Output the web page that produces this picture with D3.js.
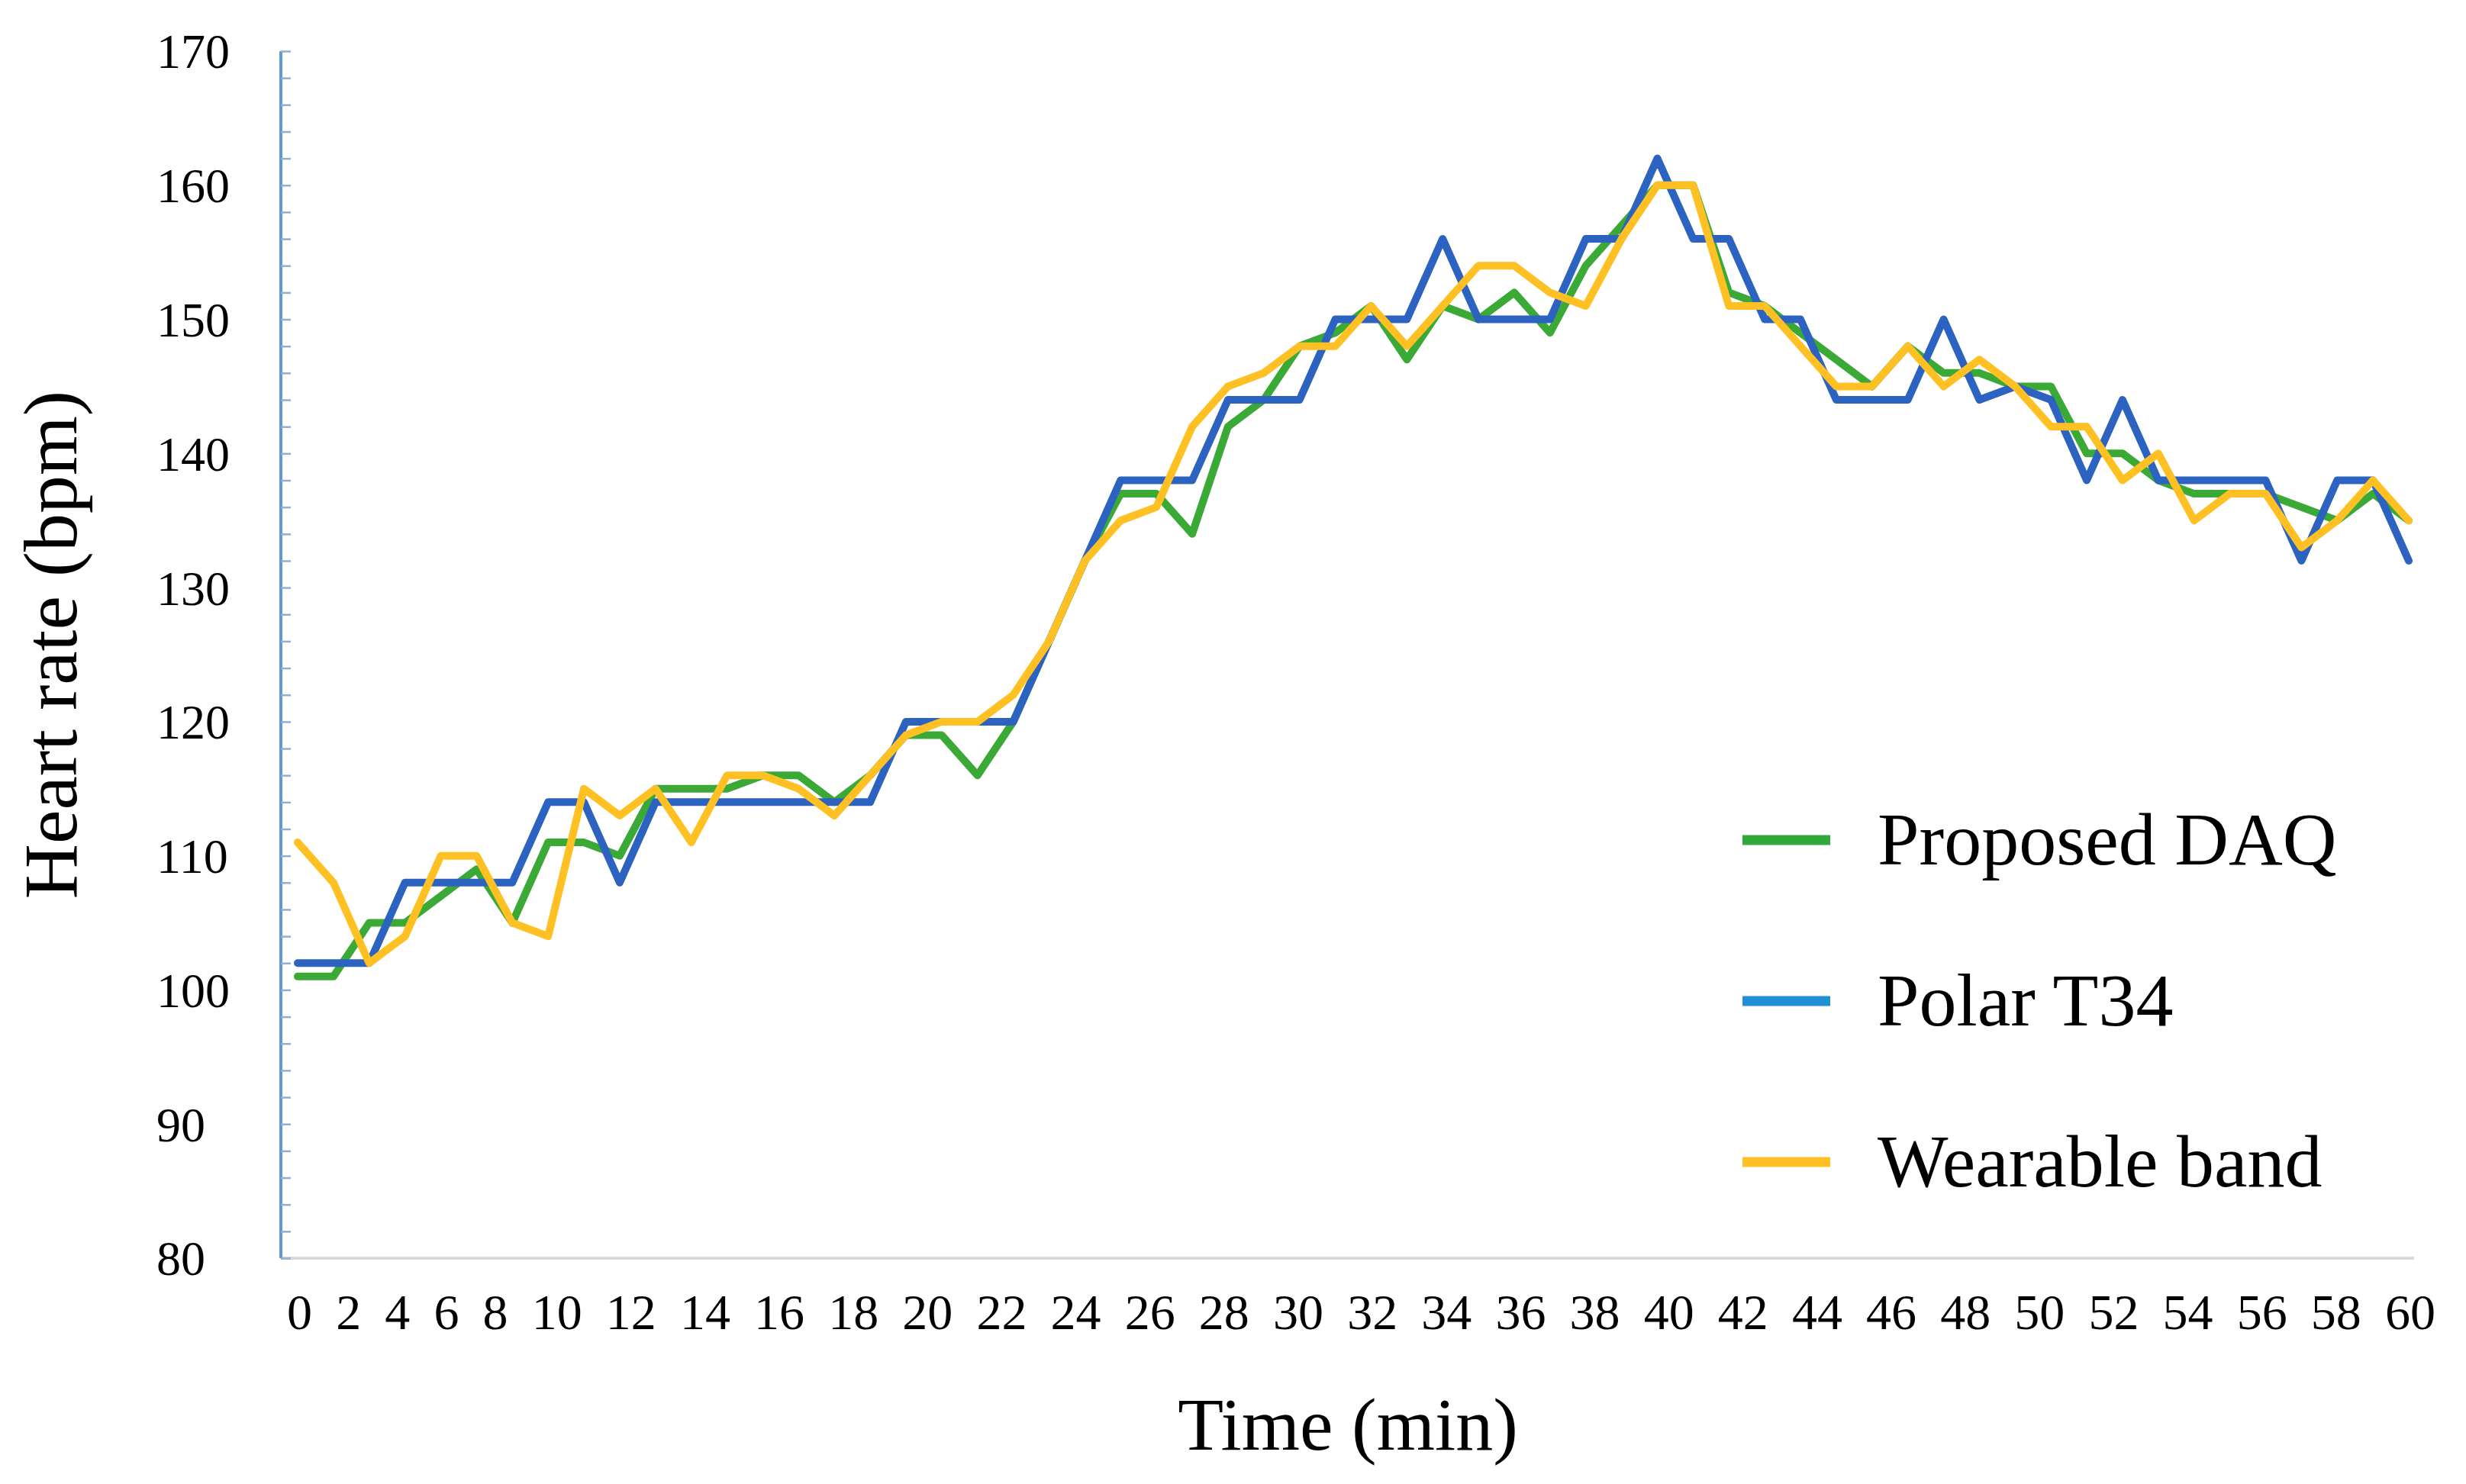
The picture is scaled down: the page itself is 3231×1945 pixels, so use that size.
<!DOCTYPE html>
<html>
<head>
<meta charset="utf-8">
<script src="https://cdn.jsdelivr.net/npm/d3@7"></script>
<style>
  body { margin: 0; background: #fff; }
  svg { display: block; font-family: "Liberation Serif", "DejaVu Serif", serif; }
</style>
</head>
<body>
<div id="chart"></div>
<script>
// heart rate per minute sample (60 samples)
const proposedDAQ = [101, 101, 105, 105, 107, 109, 105, 111, 111, 110,
  115, 115, 115, 116, 116, 114, 116, 119, 119, 116,
  120, 126, 132, 137, 137, 134, 142, 144, 148, 149,
  151, 147, 151, 150, 152, 149, 154, 157, 160, 160,
  152, 151, 149, 147, 145, 148, 146, 146, 145, 145,
  140, 140, 138, 137, 137, 137, 136, 135, 137, 135];
const polarT34 = [102, 102, 102, 108, 108, 108, 108, 114, 114, 108,
  114, 114, 114, 114, 114, 114, 114, 120, 120, 120,
  120, 126, 132, 138, 138, 138, 144, 144, 144, 150,
  150, 150, 156, 150, 150, 150, 156, 156, 162, 156,
  156, 150, 150, 144, 144, 144, 150, 144, 145, 144,
  138, 144, 138, 138, 138, 138, 132, 138, 138, 132];
const wearableBand = [111, 108, 102, 104, 110, 110, 105, 104, 115, 113,
  115, 111, 116, 116, 115, 113, 116, 119, 120, 120,
  122, 126, 132, 135, 136, 142, 145, 146, 148, 148,
  151, 148, 151, 154, 154, 152, 151, 156, 160, 160,
  151, 151, 148, 145, 145, 148, 145, 147, 145, 142,
  142, 138, 140, 135, 137, 137, 133, 135, 138, 135];

const xTickLabels = d3.range(0, 61, 2).map(String);
const yTicks = d3.range(80, 171, 10);
const seriesNames = ["Proposed DAQ", "Polar T34", "Wearable band"];
const lineColors = ["#3aa935", "#2d63c0", "#ffc024"];
const legendColors = ["#2fa83c", "#1f8fd4", "#ffc024"];

const W = 3231, H = 1945;
const plot = {left: 368, right: 3163, top: 67, bottom: 1649};

const svg = d3.select("#chart").append("svg")
  .attr("width", W)
  .attr("height", H);

svg.append("rect").attr("width", W).attr("height", H).attr("fill", "#fff");

const x = d3.scaleLinear()
  .domain([0, proposedDAQ.length - 1])
  .range([plot.left + 22, plot.right - 7]);
const y = d3.scaleLinear()
  .domain([80, 170])
  .range([plot.bottom, plot.top]);

// x axis baseline
svg.append("line")
  .attr("x1", plot.left).attr("x2", plot.right)
  .attr("y1", plot.bottom).attr("y2", plot.bottom)
  .attr("stroke", "#d9d9d9")
  .attr("stroke-width", 4);

// y axis with minor ticks every 2 bpm, pointing inward
const yAxis = svg.append("g")
  .attr("transform", `translate(${plot.left},0)`)
  .call(d3.axisRight(y).tickValues(d3.range(80, 171, 2)).tickSize(13).tickFormat(""));
yAxis.select(".domain")
  .attr("stroke", "#5b9bd5")
  .attr("stroke-width", 4)
  .attr("d", `M0,${plot.bottom}V${plot.top}`);
yAxis.selectAll(".tick line")
  .attr("stroke", "#8fb0cf")
  .attr("stroke-width", 2.5);

// y tick labels, left aligned
svg.selectAll(".ylab")
  .data(yTicks)
  .join("text")
  .attr("class", "ylab")
  .attr("x", 205)
  .attr("y", d => y(d))
  .attr("dy", "0.35em")
  .attr("font-size", 64)
  .attr("fill", "#000")
  .text(d => d);

// x tick labels are one spaced row under the axis
const xRow = svg.append("text")
  .attr("x", 376)
  .attr("y", 1742)
  .attr("font-size", 66)
  .attr("fill", "#000")
  .text(xTickLabels.join(" "));
const natural = xRow.node().getComputedTextLength();
const rowTarget = 3191 - 376;
xRow.attr("word-spacing", (rowTarget - natural) / (xTickLabels.length - 1));

// series lines
const line = d3.line()
  .x((d, i) => x(i))
  .y(d => y(d));

[proposedDAQ, polarT34, wearableBand].forEach((data, k) => {
  svg.append("path")
    .datum(data)
    .attr("fill", "none")
    .attr("stroke", lineColors[k])
    .attr("stroke-width", 10)
    .attr("stroke-linejoin", "round")
    .attr("stroke-linecap", "round")
    .attr("d", line);
});

// axis titles
svg.append("text")
  .attr("transform", "translate(100,845) rotate(-90)")
  .attr("text-anchor", "middle")
  .attr("font-size", 100)
  .attr("fill", "#000")
  .text("Heart rate (bpm)");

svg.append("text")
  .attr("x", 1766)
  .attr("y", 1900)
  .attr("text-anchor", "middle")
  .attr("font-size", 98)
  .attr("fill", "#000")
  .text("Time (min)");

// legend
const legend = svg.append("g").attr("transform", "translate(2283,1101)");
seriesNames.forEach((name, k) => {
  const g = legend.append("g").attr("transform", `translate(0,${k * 211})`);
  g.append("line")
    .attr("x1", 0).attr("x2", 115)
    .attr("y1", 0).attr("y2", 0)
    .attr("stroke", legendColors[k])
    .attr("stroke-width", 13);
  g.append("text")
    .attr("x", 177)
    .attr("y", 0)
    .attr("dy", "0.33em")
    .attr("font-size", 98)
    .attr("fill", "#000")
    .text(name);
});
</script>
</body>
</html>
